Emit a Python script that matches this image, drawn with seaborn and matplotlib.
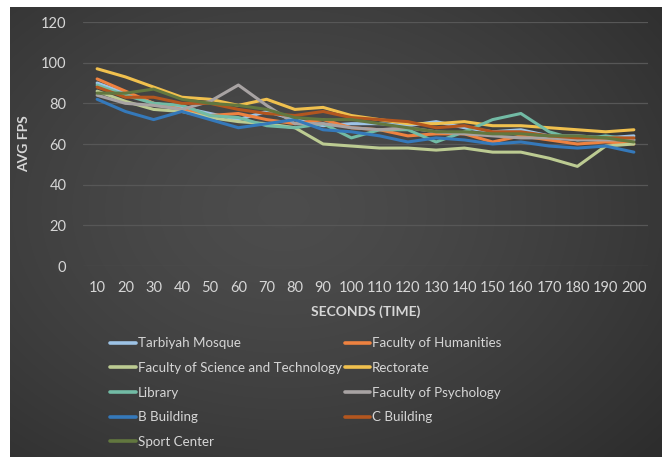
import numpy as np
import pandas as pd
import matplotlib
matplotlib.use("Agg")
import matplotlib.pyplot as plt
from matplotlib.lines import Line2D
import seaborn as sns

sns.set_theme(style="dark")
plt.rcParams["font.family"] = ["Lato", "DejaVu Sans"]

seconds = [10, 20, 30, 40, 50, 60, 70, 80, 90, 100,
           110, 120, 130, 140, 150, 160, 170, 180, 190, 200]

tarbiyah_mosque = [90, 85, 80, 78, 75, 72, 76, 72, 69, 70, 70, 69, 71, 68, 66, 67, 64, 64, 63, 64]
faculty_humanities = [92, 86, 80, 77, 74, 75, 72, 70, 72, 68, 67, 64, 65, 65, 61, 64, 62, 60, 61, 60]
faculty_science_tech = [86, 81, 77, 76, 73, 71, 70, 68, 60, 59, 58, 58, 57, 58, 56, 56, 53, 49, 59, 60]
rectorate = [97, 93, 88, 83, 82, 79, 82, 77, 78, 74, 72, 70, 70, 71, 69, 69, 68, 67, 66, 67]
library = [89, 84, 80, 79, 74, 73, 69, 68, 70, 63, 67, 67, 61, 66, 72, 75, 66, 62, 64, 62]
faculty_psychology = [84, 80, 79, 77, 81, 89, 79, 70, 70, 68, 67, 68, 66, 65, 64, 63, 63, 62, 62, 62]
b_building = [82, 76, 72, 76, 72, 68, 70, 72, 67, 66, 64, 61, 63, 62, 60, 61, 59, 58, 59, 56]
c_building = [88, 83, 83, 80, 80, 77, 75, 74, 76, 73, 72, 71, 68, 69, 66, 66, 64, 63, 63, 63]
sport_center = [85, 85, 87, 82, 80, 79, 77, 73, 72, 72, 70, 68, 66, 66, 65, 65, 64, 64, 63, 61]

series_names = ["Tarbiyah Mosque", "Faculty of Humanities",
                "Faculty of Science and Technology", "Rectorate", "Library",
                "Faculty of Psychology", "B Building", "C Building", "Sport Center"]
series_values = [tarbiyah_mosque, faculty_humanities, faculty_science_tech,
                 rectorate, library, faculty_psychology, b_building,
                 c_building, sport_center]
colors = ["#9DC3E6", "#EE8240", "#BCCB92", "#F0C04E", "#72BBA5",
          "#A8A3A3", "#3579BA", "#B3561F", "#62773F"]
palette = dict(zip(series_names, colors))

df = pd.DataFrame([
    {"Building": name, "Seconds": s, "FPS": v}
    for name, vals in zip(series_names, series_values)
    for s, v in zip(seconds, vals)
])

W, H = 669, 457
fig = plt.figure(figsize=(W / 100, H / 100), dpi=100, facecolor="white")

# dark panel with a soft radial gradient
bg = fig.add_axes([10 / W, 0, 652 / W, 450 / H])
yy, xx = np.mgrid[0:1:300j, 0:1:440j]
r = np.sqrt(((xx - 0.42) / 0.75) ** 2 + ((yy - 0.45) / 0.8) ** 2)
shade = 0.30 - 0.12 * np.clip(r, 0, 1.0) ** 1.4
bg.imshow(np.dstack([shade] * 3), aspect="auto", extent=(0, 1, 0, 1),
          interpolation="bilinear")
bg.set_axis_off()
bg.set_zorder(-2)

ax = fig.add_axes([83 / W, 1 - 266 / H, 565 / W, 244 / H])
ax.set_facecolor("none")

sns.lineplot(data=df, x="Seconds", y="FPS", hue="Building",
             hue_order=series_names, palette=palette, estimator=None,
             sort=False, linewidth=2.2, legend=False, ax=ax)

ax.set_xlim(5, 205)
ax.set_ylim(0, 120)
ax.set_xticks(seconds)
ax.set_yticks(range(0, 121, 20))
ax.grid(axis="y", color="#575757", linewidth=0.9)
ax.grid(axis="x", visible=False)
ax.set_axisbelow(True)
for sp in ax.spines.values():
    sp.set_visible(False)
tick_color = "#D6D6D6"
ax.tick_params(axis="both", length=0, colors=tick_color, labelsize=10.5)
ax.tick_params(axis="y", pad=12)
ax.tick_params(axis="x", pad=11)

ax.set_xlabel("SECONDS (TIME)", color=tick_color, fontsize=10,
              fontweight="bold", labelpad=7)
ax.set_ylabel("AVG FPS", color=tick_color, fontsize=10,
              fontweight="bold", labelpad=8)

# legend: two columns, filled row by row
handles = [Line2D([0], [0], color=palette[n], linewidth=2.6) for n in series_names]
order = [0, 2, 4, 6, 8, 1, 3, 5, 7]
leg = fig.legend([handles[i] for i in order], [series_names[i] for i in order],
                 ncol=2, loc="upper left",
                 bbox_to_anchor=(105 / W, 1 - 332 / H), frameon=False,
                 fontsize=9.6, handlelength=1.9, handletextpad=0.15,
                 columnspacing=0.23, labelspacing=0.95, borderaxespad=0)
for t in leg.get_texts():
    t.set_color(tick_color)

fig.savefig("out.png", dpi=100, facecolor="white")
